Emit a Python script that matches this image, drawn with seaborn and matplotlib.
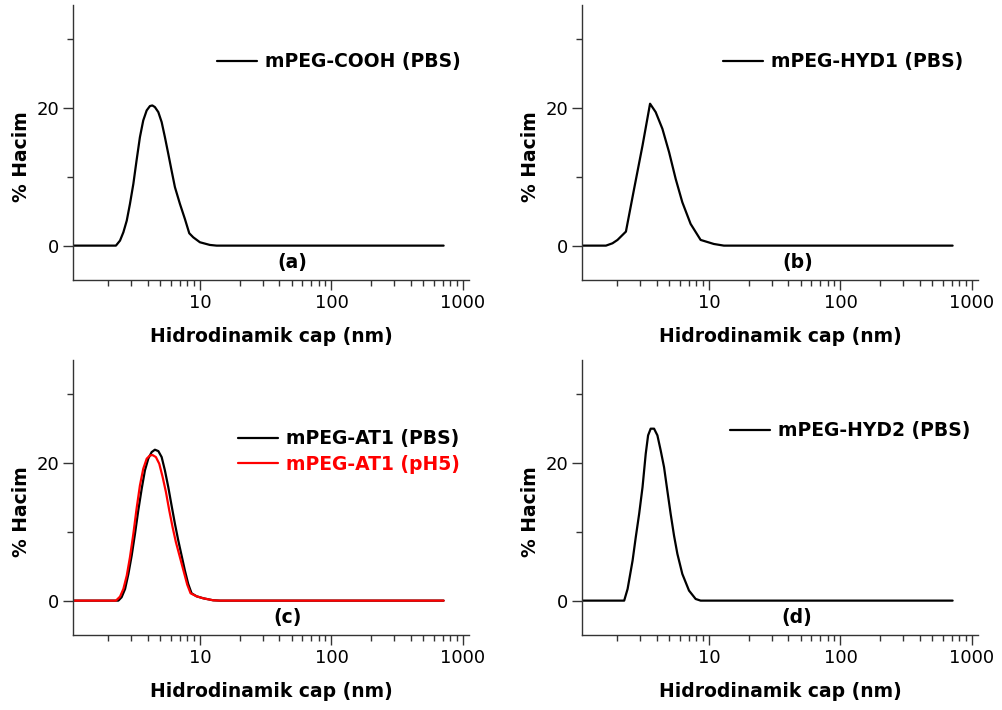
import numpy as np
import pandas as pd
import matplotlib
matplotlib.use("Agg")
import matplotlib.pyplot as plt
import seaborn as sns
from matplotlib.ticker import MultipleLocator, LogLocator, FixedLocator, FixedFormatter, NullFormatter

# ---------------- data ----------------
size_a = [1.0, 2.30, 2.47, 2.62, 2.78, 2.94, 3.12, 3.30, 3.50, 3.71, 3.94, 4.17, 4.35, 4.55,
          4.83, 5.12, 5.42, 5.75, 6.09, 6.46, 7.05, 7.69, 8.30, 8.90, 10.0, 11.9, 13.4, 712]
vol_a = [0, 0, 0.73, 1.94, 3.64, 6.07, 8.98, 12.38, 15.78, 18.21, 19.67, 20.30, 20.39, 20.15,
         19.42, 17.97, 15.78, 13.35, 10.93, 8.50, 6.07, 3.88, 1.80, 1.21, 0.49, 0.10, 0, 0]

size_b = [1.0, 1.65, 1.85, 2.02, 2.34, 2.70, 3.13, 3.57, 3.94, 4.43, 4.98, 5.59, 6.28,
          7.26, 8.65, 10.9, 13.0, 712]
vol_b = [0, 0, 0.34, 0.83, 2.04, 8.25, 14.57, 20.64, 19.42, 17.0, 13.6, 9.71, 6.31,
         3.16, 0.83, 0.24, 0, 0]

size_c_pbs = [1.0, 2.40, 2.54, 2.70, 2.86, 3.03, 3.21, 3.40, 3.61, 3.82, 4.05, 4.30, 4.55,
              4.83, 5.12, 5.42, 5.75, 6.09, 6.46, 6.85, 7.26, 7.69, 8.15, 8.64, 9.43,
              10.6, 12.6, 14.2, 712]
vol_c_pbs = [0, 0, 0.49, 1.70, 3.88, 6.55, 9.71, 13.11, 16.27, 18.94, 20.64, 21.61, 21.95,
             21.75, 20.88, 18.94, 16.51, 13.84, 11.17, 8.74, 6.55, 4.37, 2.43, 1.07, 0.63,
             0.34, 0.05, 0, 0]

size_c_ph5 = [1.0, 2.30, 2.47, 2.62, 2.78, 2.94, 3.12, 3.30, 3.50, 3.71, 3.94, 4.17, 4.37,
              4.63, 4.91, 5.21, 5.52, 5.85, 6.20, 6.57, 7.05, 7.56, 8.01, 8.49, 9.43,
              10.6, 12.6, 14.2, 712]
vol_c_ph5 = [0, 0, 0.58, 1.70, 3.64, 6.31, 9.71, 13.35, 16.75, 19.18, 20.64, 21.12, 21.17,
             20.88, 19.91, 17.97, 15.78, 13.11, 10.68, 8.50, 6.31, 4.13, 2.33, 1.07, 0.63,
             0.34, 0.05, 0, 0]

size_d = [1.0, 2.27, 2.41, 2.63, 2.78, 2.95, 3.13, 3.31, 3.45, 3.61, 3.83, 4.06, 4.30,
          4.56, 4.83, 5.12, 5.43, 5.76, 6.28, 7.06, 7.93, 8.65, 712]
vol_d = [0, 0, 1.70, 5.83, 9.22, 12.62, 16.51, 21.36, 24.04, 25.01, 25.01, 24.04, 21.85,
         19.42, 16.02, 12.62, 9.47, 6.80, 3.88, 1.46, 0.24, 0, 0]

label_a = "mPEG-COOH (PBS)"
label_b = "mPEG-HYD1 (PBS)"
label_c_pbs = "mPEG-AT1 (PBS)"
label_c_ph5 = "mPEG-AT1 (pH5)"
label_d = "mPEG-HYD2 (PBS)"
panel_letters = ["(a)", "(b)", "(c)", "(d)"]

xlabel = "Hidrodinamik cap (nm)"
ylabel = "% Hacim"
xtick_vals = [10, 100, 1000]
xtick_labels = ["10", "100", "1000"]
ytick_vals = [0, 20]
ytick_labels = ["0", "20"]

# ---------------- style ----------------
sns.set_theme(style="ticks")
plt.rcParams["font.family"] = ["DejaVu Sans"]
plt.rcParams["axes.linewidth"] = 1.0
plt.rcParams["text.color"] = "black"
plt.rcParams["axes.labelcolor"] = "black"
plt.rcParams["xtick.color"] = "black"
plt.rcParams["ytick.color"] = "black"

fig = plt.figure(figsize=(10.03, 7.10), dpi=100)
W, H = 1003, 710
ax_w, ax_h = 396, 275
positions = [(73, 5), (582, 5), (73, 360), (582, 360)]  # left, top in px
axes = []
for (l, t) in positions:
    axes.append(fig.add_axes([l / W, 1 - (t + ax_h) / H, ax_w / W, ax_h / H]))

FS = 13.5

series = [
    [(size_a, vol_a, label_a, "black")],
    [(size_b, vol_b, label_b, "black")],
    [(size_c_pbs, vol_c_pbs, label_c_pbs, "black"), (size_c_ph5, vol_c_ph5, label_c_ph5, "#ff0000")],
    [(size_d, vol_d, label_d, "black")],
]
legend_anchor = [(0.364, 0.793), (0.356, 0.793), (0.417, 0.667), (0.374, 0.742)]
letter_pos = [(0.553, 0.062), (0.546, 0.062), (0.542, 0.065), (0.543, 0.065)]

for i, ax in enumerate(axes):
    for (xs, ys, lab, col) in series[i]:
        df = pd.DataFrame({"size": xs, "vol": ys})
        sns.lineplot(data=df, x="size", y="vol", ax=ax, color=col, linewidth=1.6,
                     label=lab, sort=False, estimator=None)
    ax.set_xscale("log")
    ax.set_xlim(1.085, 1110)
    ax.set_ylim(-5, 35)
    ax.xaxis.set_major_locator(FixedLocator(xtick_vals))
    ax.xaxis.set_major_formatter(FixedFormatter(xtick_labels))
    ax.xaxis.set_minor_locator(LogLocator(base=10, subs=np.arange(2, 10), numticks=20))
    ax.xaxis.set_minor_formatter(NullFormatter())
    ax.yaxis.set_major_locator(FixedLocator(ytick_vals))
    ax.yaxis.set_major_formatter(FixedFormatter(ytick_labels))
    ax.yaxis.set_minor_locator(MultipleLocator(10))
    ax.tick_params(which="major", direction="out", length=7, width=1.0, labelsize=13, pad=3, color="#333333")
    ax.tick_params(which="minor", direction="out", length=4, width=1.0, color="#333333")
    sns.despine(ax=ax)
    for s in ["left", "bottom"]:
        ax.spines[s].set_color("#333333")
    ax.set_xlabel(xlabel, fontsize=FS, fontweight="bold")
    ax.set_ylabel(ylabel, fontsize=FS, fontweight="bold")
    ax.xaxis.set_label_coords(0.5, -0.207)
    ax.xaxis.label.set_va("center")
    ax.yaxis.set_label_coords(-0.129, 0.448)
    ax.yaxis.label.set_va("center")
    leg = ax.legend(loc="center left", bbox_to_anchor=legend_anchor[i], frameon=False,
                    borderpad=0, borderaxespad=0, handlelength=2.13, handletextpad=0.43,
                    labelspacing=0.35, prop={"size": FS, "weight": "bold"})
    for txt, (_, _, _, col) in zip(leg.get_texts(), series[i]):
        txt.set_color(col)
    for ln in leg.get_lines():
        ln.set_linewidth(1.6)
    ax.text(letter_pos[i][0], letter_pos[i][1], panel_letters[i], transform=ax.transAxes,
            ha="center", va="center", fontsize=FS, fontweight="bold")

fig.savefig("out.png", dpi=100)
